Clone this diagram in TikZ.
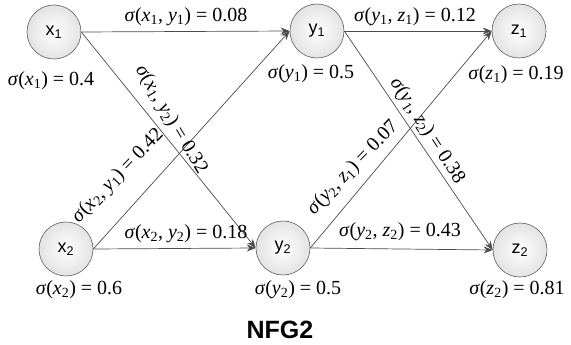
\documentclass[tikz,border=0pt]{standalone}
\usepackage{fontspec}
\setmainfont{Liberation Serif}
\newfontfamily\arialf{Liberation Sans}
\usetikzlibrary{arrows.meta}
\newcommand{\sv}[2]{\textit{#1}\textsubscript{#2}}
\newcommand{\sgone}[3]{\textit{σ}(\sv{#1}{#2}) = #3}
\newcommand{\sgtwo}[5]{\textit{σ}(\sv{#1}{#2}, \sv{#3}{#4}) = #5}
\begin{document}
\begin{tikzpicture}[x=1pt,y=-1pt,
  vert/.style={circle,draw=gray!75!black,line width=0.6pt,inner color=white,outer color=gray!22,minimum size=54pt,inner sep=0pt,
    font=\arialf\fontsize{18}{18}\selectfont},
  edge/.style={draw=gray!60!black,line width=0.7pt,-{Stealth[length=9pt,width=7pt]}},
  lab/.style={font=\rmfamily\fontsize{20}{20}\selectfont,inner sep=0pt},
  ttl/.style={font=\arialf\bfseries\fontsize{25}{25}\selectfont,inner sep=0pt}]
\useasboundingbox (0,0) rectangle (571,345);
\node[vert] (x1) at (54,32) {x\textsubscript{1}};
\node[vert] (x2) at (66,249) {x\textsubscript{2}};
\node[vert] (y1) at (317,31) {y\textsubscript{1}};
\node[vert] (y2) at (283,248) {y\textsubscript{2}};
\node[vert] (z1) at (519,31) {z\textsubscript{1}};
\node[vert] (z2) at (520,250) {z\textsubscript{2}};
\draw[edge] (x1.east) -- (y1.west);
\draw[edge] (x1.east) -- (y2.west);
\draw[edge] (x2.east) -- (y1.west);
\draw[edge] (x2.east) -- (y2.west);
\draw[edge] (y1.east) -- (z1.west);
\draw[edge] (y1.east) -- (z2.west);
\draw[edge] (y2.east) -- (z1.west);
\draw[edge] (y2.east) -- (z2.west);
\node[lab] (lx1y1) at (186,17) {\sgtwo{x}{1}{y}{1}{0.08}};
\node[lab] (ly1z1) at (415,17) {\sgtwo{y}{1}{z}{1}{0.12}};
\node[lab] (lx2y2) at (186,234) {\sgtwo{x}{2}{y}{2}{0.18}};
\node[lab] (ly2z2) at (400,232) {\sgtwo{y}{2}{z}{2}{0.43}};
\node[lab,rotate=-59] (lx1y2) at (171,120) {\sgtwo{x}{1}{y}{2}{0.32}};
\node[lab,rotate=46] (lx2y1) at (118,176) {\sgtwo{x}{2}{y}{1}{0.42}};
\node[lab,rotate=46] (ly2z1) at (353,168) {\sgtwo{y}{2}{z}{1}{0.07}};
\node[lab,rotate=-57] (ly1z2) at (427,131) {\sgtwo{y}{1}{z}{2}{0.38}};
\node[lab] (lx1) at (51,81) {\sgone{x}{1}{0.4}};
\node[lab] (ly1) at (311,74) {\sgone{y}{1}{0.5}};
\node[lab] (lz1) at (516,75) {\sgone{z}{1}{0.19}};
\node[lab] (lx2) at (79,290) {\sgone{x}{2}{0.6}};
\node[lab] (ly2) at (298,290) {\sgone{y}{2}{0.5}};
\node[lab] (lz2) at (517,290) {\sgone{z}{2}{0.81}};
\node[ttl] (title) at (280,330) {NFG2};
\end{tikzpicture}
\end{document}
